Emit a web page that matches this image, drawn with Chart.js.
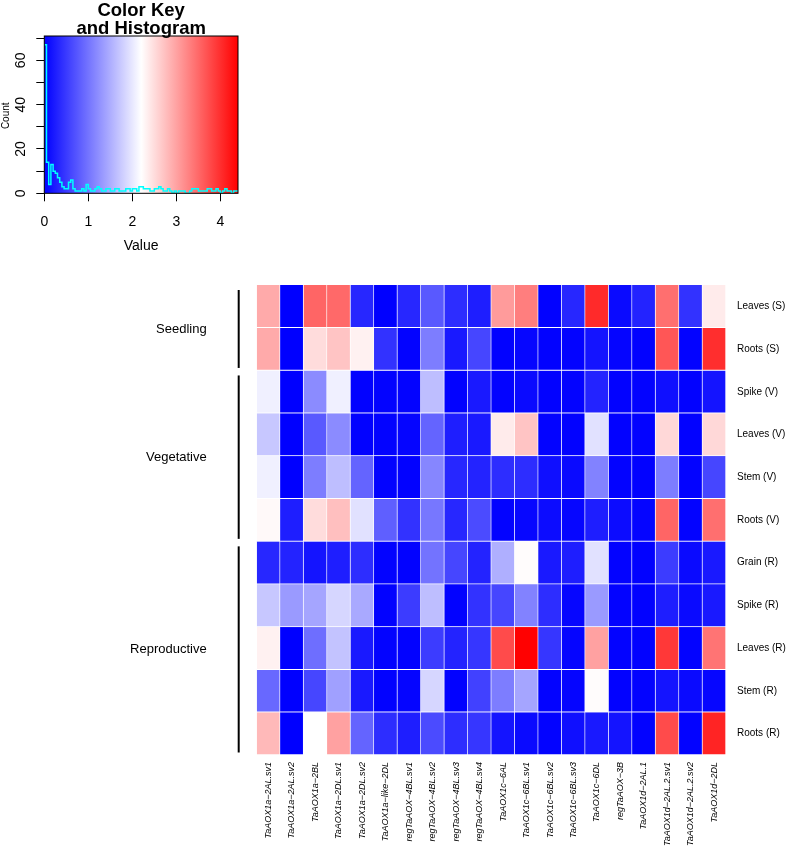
<!DOCTYPE html>
<html>
<head>
<meta charset="utf-8">
<script src="https://cdn.jsdelivr.net/npm/chart.js@4.4.1/dist/chart.umd.min.js"></script>
<style>
  body { margin: 0; background: #fff; }
  canvas { position: absolute; left: 0; top: 0; }
</style>
</head>
<body>
<canvas id="heat" width="786" height="850"></canvas>
<canvas id="key" width="250" height="260"></canvas>
<script>
const genes = ["TaAOX1a−2AL.sv1","TaAOX1a−2AL.sv2","TaAOX1a−2BL","TaAOX1a−2DL.sv1","TaAOX1a−2DL.sv2",
  "TaAOX1a−like−2DL","regTaAOX−4BL.sv1","regTaAOX−4BL.sv2","regTaAOX−4BL.sv3","regTaAOX−4BL.sv4",
  "TaAOX1c−6AL","TaAOX1c−6BL.sv1","TaAOX1c−6BL.sv2","TaAOX1c−6BL.sv3","TaAOX1c−6DL",
  "regTaAOX−3B","TaAOX1d−2AL.1","TaAOX1d−2AL.2.sv1","TaAOX1d−2AL.2.sv2","TaAOX1d−2DL"]
const tissues = ["Leaves (S)","Roots (S)","Spike (V)","Leaves (V)","Stem (V)","Roots (V)",
  "Grain (R)","Spike (R)","Leaves (R)","Stem (R)","Roots (R)"]
const stages = ["Seedling","Vegetative","Reproductive"]
const stageRows = [[0,2],[2,6],[6,11]]

// expression per tissue, one value per gene (same order as genes)
const leavesS = [2.93,0.00,3.53,3.49,0.34,0.00,0.34,0.77,0.39,0.26,3.06,3.31,0.02,0.34,4.04,0.09,0.30,3.44,0.43,2.37]
const rootsS  = [2.93,0.00,2.50,2.71,2.32,0.43,0.03,1.08,0.22,0.60,0.02,0.05,0.02,0.03,0.17,0.04,0.02,3.66,0.03,4.00]
const spikeV  = [2.07,0.00,1.20,2.07,0.02,0.03,0.03,1.64,0.02,0.22,0.03,0.09,0.02,0.03,0.30,0.02,0.03,0.13,0.02,0.17]
const leavesV = [1.72,0.00,0.77,1.20,0.02,0.03,0.04,0.86,0.26,0.22,2.37,2.71,0.03,0.02,1.94,0.02,0.03,2.54,0.02,2.54]
const stemV   = [2.07,0.00,1.08,1.64,0.86,0.03,0.02,1.16,0.34,0.30,0.39,0.39,0.13,0.09,1.12,0.03,0.02,1.08,0.03,0.60]
const rootsV  = [2.25,0.26,2.50,2.75,1.94,0.82,0.43,1.03,0.34,0.65,0.03,0.06,0.10,0.05,0.26,0.10,0.04,3.53,0.03,3.44]
const grainR  = [0.34,0.30,0.17,0.26,0.39,0.03,0.02,0.99,0.60,0.30,1.51,2.23,0.22,0.26,1.94,0.03,0.02,0.52,0.09,0.22]
const spikeR  = [1.72,1.33,1.42,1.85,1.46,0.02,0.52,1.64,0.02,0.43,0.60,1.12,0.39,0.05,1.33,0.03,0.02,0.26,0.09,0.22]
const leavesR = [2.32,0.00,0.95,1.68,0.22,0.03,0.02,0.52,0.30,0.47,3.75,4.39,0.47,0.04,3.01,0.03,0.02,3.92,0.03,3.40]
const stemR   = [0.90,0.00,0.60,1.38,0.22,0.02,0.04,1.85,0.02,0.56,1.08,1.42,0.03,0.04,2.23,0.02,0.03,0.17,0.09,0.05]
const rootsR  = [2.80,0.00,2.20,3.01,0.86,0.39,0.26,0.65,0.39,0.47,0.17,0.09,0.03,0.13,0.22,0.17,0.03,3.75,0.03,4.09]
const values = [leavesS, rootsS, spikeV, leavesV, stemV, rootsV, grainR, spikeR, leavesR, stemR, rootsR]

// colour key histogram (bins of 0.05)
const keyMax = 4.4
const binWidth = 0.05
const histCounts = [67,14,4,13,10,9,7,5,3,2, 2,5,6,2,1,1,1,2,1,4, 2,1,1,2,3,2,1,1,2,2,
  1,1,2,2,1,1,1,2,2,1, 2,2,1,3,3,2,2,2,1,1, 2,2,3,2,1,1,2,1,0,1, 0,1,1,1,0,0,1,2,2,2,
  1,1,1,1,2,2,1,1,2,1, 0,1,2,1,1,0,1,1]
const countTicks = [0,20,40,60]

const fam = "'Liberation Sans', Arial, sans-serif"

const colourOf = v => {
  const t = Math.min(Math.max(v / keyMax, 0), 1)
  if (t < 0.5) { const c = Math.round(t * 2 * 255); return `rgb(${c},${c},255)` }
  const c = Math.round((1 - t) * 2 * 255); return `rgb(255,${c},${c})`
}

const stageMarks = {
  id: 'stageMarks',
  afterDraw(chart) {
    const { ctx, scales: { y }, chartArea } = chart
    ctx.save()
    ctx.strokeStyle = '#000'
    ctx.lineWidth = 2
    ctx.fillStyle = '#000'
    ctx.font = '13px ' + fam
    ctx.textAlign = 'right'
    ctx.textBaseline = 'middle'
    const lx = chartArea.left - 18
    stages.forEach((s, i) => {
      const y0 = y.getPixelForValue(stageRows[i][0]) + 5
      const y1 = y.getPixelForValue(stageRows[i][1]) - 2.5
      ctx.beginPath(); ctx.moveTo(lx, y0); ctx.lineTo(lx, y1); ctx.stroke()
      ctx.fillText(s, chartArea.left - 50, (y0 + y1) / 2)
    })
    ctx.restore()
  }
}

new Chart(document.getElementById('heat'), {
  type: 'bar',
  data: {
    labels: genes,
    datasets: values.map((row, i) => ({
      label: tissues[i],
      data: row.map(() => [i, i + 1]),
      backgroundColor: row.map(colourOf),
      borderColor: '#fff',
      borderWidth: { top: 0, left: 0, right: 1, bottom: 1 },
      borderSkipped: false,
      grouped: false,
      categoryPercentage: 1,
      barPercentage: 1
    }))
  },
  options: {
    responsive: false,
    animation: false,
    layout: { padding: { left: 256.7, top: 285, right: 0, bottom: 0 } },
    plugins: { legend: { display: false }, tooltip: { enabled: false } },
    scales: {
      x: {
        grid: { display: false, drawTicks: false },
        border: { display: false },
        ticks: { autoSkip: false, minRotation: 90, maxRotation: 90, padding: 7, color: '#000',
          font: { family: fam, size: 9, style: 'italic' } },
        afterFit: s => { s.height = 95 }
      },
      y: {
        type: 'linear', position: 'right', min: 0, max: 11, reverse: true,
        grid: { display: false, drawTicks: false },
        border: { display: false },
        afterBuildTicks: s => { s.ticks = tissues.map((_, i) => ({ value: i + 0.5 })) },
        ticks: { callback: (v, i) => tissues[i], padding: 11, color: '#000', font: { family: fam, size: 10 } },
        afterFit: s => { s.width = 60 }
      }
    }
  },
  plugins: [stageMarks]
})

const keyDecor = {
  id: 'keyDecor',
  beforeDatasetsDraw(chart) {
    const { ctx, chartArea: a } = chart
    const g = ctx.createLinearGradient(a.left, 0, a.right, 0)
    g.addColorStop(0, 'rgb(0,0,255)')
    g.addColorStop(0.5, 'rgb(255,255,255)')
    g.addColorStop(1, 'rgb(255,0,0)')
    ctx.save()
    ctx.fillStyle = g
    ctx.fillRect(a.left, a.top, a.right - a.left, a.bottom - a.top)
    ctx.restore()
  },
  afterDraw(chart) {
    const { ctx, chartArea: a, scales: { y } } = chart
    ctx.save()
    ctx.strokeStyle = '#000'
    ctx.lineWidth = 1
    ctx.strokeRect(a.left, a.top, a.right - a.left, a.bottom - a.top)
    ctx.fillStyle = '#000'
    ctx.textAlign = 'center'
    ctx.textBaseline = 'alphabetic'
    ctx.font = 'bold 18.5px ' + fam
    const cx = (a.left + a.right) / 2
    ctx.fillText('Color Key', cx, 15.5)
    ctx.fillText('and Histogram', cx, 33.5)
    ctx.font = '14px ' + fam
    ctx.fillText('Value', cx, 250)
    countTicks.forEach(t => {
      ctx.save()
      ctx.translate(25, y.getPixelForValue(t))
      ctx.rotate(-Math.PI / 2)
      ctx.fillText(String(t), 0, 0)
      ctx.restore()
    })
    ctx.font = '10px ' + fam
    ctx.translate(8.5, y.getPixelForValue(35))
    ctx.rotate(-Math.PI / 2)
    ctx.fillText('Count', 0, 0)
    ctx.restore()
  }
}

const histPoints = histCounts.map((c, i) => ({ x: i * binWidth, y: c }))
histPoints.push({ x: histCounts.length * binWidth, y: histCounts[histCounts.length - 1] })

new Chart(document.getElementById('key'), {
  type: 'line',
  data: {
    datasets: [{
      data: histPoints,
      stepped: 'before',
      borderColor: '#00ffff',
      borderWidth: 1.5,
      pointRadius: 0,
      fill: false
    }]
  },
  options: {
    responsive: false,
    animation: false,
    layout: { padding: { left: 0, top: 36, right: 12, bottom: 0 } },
    plugins: { legend: { display: false }, tooltip: { enabled: false } },
    scales: {
      x: {
        type: 'linear', min: 0, max: keyMax,
        grid: { drawOnChartArea: false, tickLength: 8, color: '#000' },
        border: { display: false },
        ticks: { stepSize: 1, includeBounds: false, maxRotation: 0, padding: 12, color: '#000',
          font: { family: fam, size: 14 } },
        afterFit: s => { s.height = 260 - 193.3 }
      },
      y: {
        min: 0, max: 71,
        grid: { drawOnChartArea: false, tickLength: 8, color: '#000' },
        border: { display: false },
        ticks: { stepSize: 10, includeBounds: false, display: false },
        afterFit: s => { s.width = 44.3 }
      }
    }
  },
  plugins: [keyDecor]
})
</script>
</body>
</html>
